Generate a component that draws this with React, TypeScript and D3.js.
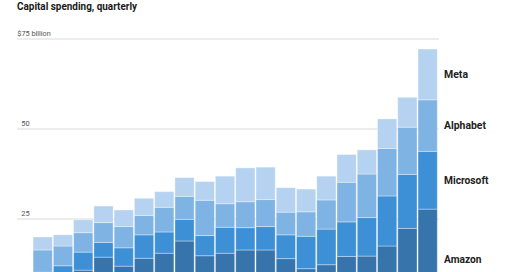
import React from "react";
import * as d3 from "d3";

const quarters = [
  "2020Q1","2020Q2","2020Q3","2020Q4",
  "2021Q1","2021Q2","2021Q3","2021Q4",
  "2022Q1","2022Q2","2022Q3","2022Q4",
  "2023Q1","2023Q2","2023Q3","2023Q4",
  "2024Q1","2024Q2","2024Q3","2024Q4",
];
const amazon = [6.4, 7.5, 10.8, 14.4, 11.9, 14.1, 15.5, 18.9, 14.8, 15.5, 16.4, 16.4, 14.0, 11.2, 12.3, 14.6, 14.7, 17.5, 22.4, 27.75];
const microsoft = [3.8, 4.5, 5.0, 4.1, 5.1, 6.5, 5.9, 6.0, 5.6, 7.2, 6.2, 6.5, 6.6, 9.0, 9.9, 9.6, 10.7, 13.9, 15.0, 16.05];
const alphabet = [6.2, 5.5, 5.4, 5.5, 5.9, 5.4, 6.85, 6.4, 9.8, 6.55, 7.2, 7.5, 6.3, 6.8, 8.1, 11.0, 12.1, 13.2, 13.1, 14.3];
const meta = [3.6, 3.1, 3.6, 4.6, 4.6, 4.75, 4.35, 5.2, 5.2, 7.65, 9.4, 9.0, 6.8, 6.3, 6.6, 7.7, 6.7, 8.2, 8.3, 14.1];
const seriesNames = ["Amazon", "Microsoft", "Alphabet", "Meta"];
const seriesColors = ["#3674ab", "#3d8fd6", "#7fb3e3", "#b5d2f0"];
const yTicks = [25, 50, 75];
const yTickLabels = ["25", "50", "$75 billion"];
const title = "Capital spending, quarterly";

const FONT = "'Liberation Sans Narrow', Roboto, 'Liberation Sans', sans-serif";

export default function App() {
  const W = 520, H = 272;
  const rows = quarters.map((q, i) => ({
    q,
    Amazon: amazon[i],
    Microsoft: microsoft[i],
    Alphabet: alphabet[i],
    Meta: meta[i],
  }));
  const stack = d3.stack<any>().keys(seriesNames)(rows);
  const x = d3.scaleBand<string>().domain(quarters).range([32.6, 437.8]).paddingInner(0.05).paddingOuter(0.025);
  const y = d3.scaleLinear().domain([0, 75]).range([309, 39]);
  const gridX0 = 17, gridX1 = 439;
  const last = quarters[quarters.length - 1];
  const labelWidths: Record<string, number> = { Meta: 24, Alphabet: 42, Microsoft: 44.5, Amazon: 37.5 };

  return (
    <svg width={W} height={H} style={{ position: "absolute", left: 0, top: 0, background: "#fff" }} fontFamily={FONT}>
      <text x={17} y={10.3} fontSize={10.5} fontWeight={700} fill="#1a1a1a" textLength={120} lengthAdjust="spacingAndGlyphs">{title}</text>
      {yTicks.map((t, i) => (
        <g key={t}>
          <line x1={gridX0} x2={gridX1} y1={y(t)} y2={y(t)} stroke="#dcdcdc" strokeWidth={1.2} />
          <text
            x={i === 2 ? 17.3 : 21.3}
            y={y(t) - 2.7}
            fontSize={8}
            fill="#555"
            textLength={i === 2 ? 33.5 : 8.4}
            lengthAdjust="spacingAndGlyphs"
          >{yTickLabels[i]}</text>
        </g>
      ))}
      {stack.map((s, si) => (
        <g key={s.key} fill={seriesColors[si]}>
          {s.map((d: any) => (
            <rect
              key={d.data.q}
              x={x(d.data.q)}
              width={x.bandwidth()}
              y={y(d[1])}
              height={y(d[0]) - y(d[1])}
              stroke="#ffffff"
              strokeOpacity={0.35}
              strokeWidth={1}
            />
          ))}
        </g>
      ))}
      {stack.map((s) => {
        const d: any = s[s.length - 1];
        const cy = (y(d[0]) + y(d[1])) / 2;
        return (
          <text
            key={s.key}
            x={444}
            y={cy}
            dy="0.35em"
            fontSize={10.5}
            fontWeight={700}
            fill="#222"
            textLength={labelWidths[s.key]}
            lengthAdjust="spacingAndGlyphs"
          >{s.key}</text>
        );
      })}
    </svg>
  );
}
